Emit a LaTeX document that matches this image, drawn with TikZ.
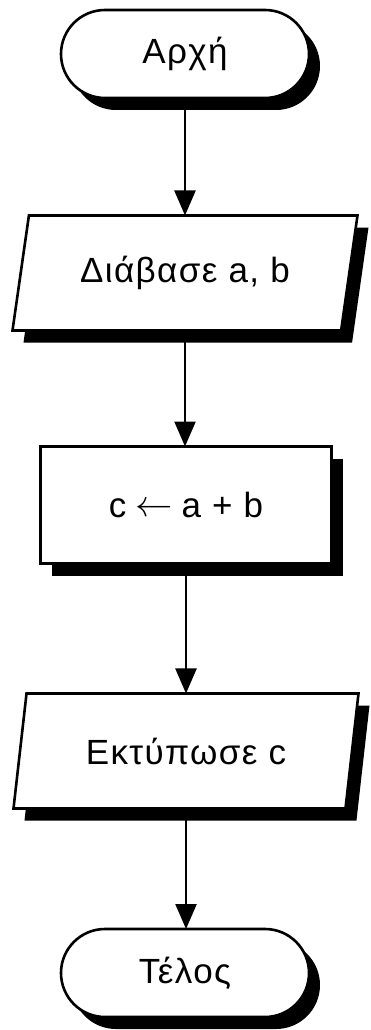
\documentclass[tikz,border=0pt]{standalone}
\usepackage{fontspec}
\setmainfont{Liberation Sans}[LetterSpace=4]
\usetikzlibrary{shapes.misc,shapes.geometric,shadows,arrows.meta}

\newcommand\assignarrow{\raisebox{1pt}{\scalebox{1.5}{$\leftarrow$}}}

\tikzset{
  blockshadow/.style={drop shadow={shadow xshift=11pt, shadow yshift=-12pt,
      opacity=1, fill=black}},
  block/.style={draw, line width=2.6pt, fill=white, blockshadow,
      inner sep=0pt, outer sep=0pt,
      font=\fontsize{35}{40}\selectfont},
  terminal/.style={block, rounded rectangle, minimum width=248pt, minimum height=88pt},
  process/.style={block, rectangle, minimum width=291pt, minimum height=117pt},
  io/.style={block, trapezium, trapezium left angle=64, trapezium right angle=116,
      trapezium stretches body, minimum width=345pt, minimum height=115pt},
  flow/.style={line width=2.4pt, -{Triangle[width=21pt, length=25pt]}}
}

\begin{document}
\begin{tikzpicture}[x=1pt, y=-1pt]
  \useasboundingbox (0,0) rectangle (370,1030);

  \coordinate (p1) at (185,54);
  \coordinate (p2) at (185,273);
  \coordinate (p3) at (186,505);
  \coordinate (p4) at (186,751);
  \coordinate (p5) at (185,973);

  \node[terminal] (start) at (p1) {Αρχή};
  \node[io]       (read)  at (p2) {Διάβασε a, b};
  \node[process]  (calc)  at (p3) {c\hspace{9pt}\assignarrow\hspace{9pt}a + b};
  \node[io]       (print) at (p4) {Εκτύπωσε c};
  \node[terminal] (stop)  at (p5) {Τέλος};

  \draw[flow] (start.south) -- (start.south |- read.north);
  \draw[flow] (read.south)  -- (read.south |- calc.north);
  \draw[flow] (calc.south)  -- (calc.south |- print.north);
  \draw[flow] (print.south) -- (print.south |- stop.north);
\end{tikzpicture}
\end{document}
